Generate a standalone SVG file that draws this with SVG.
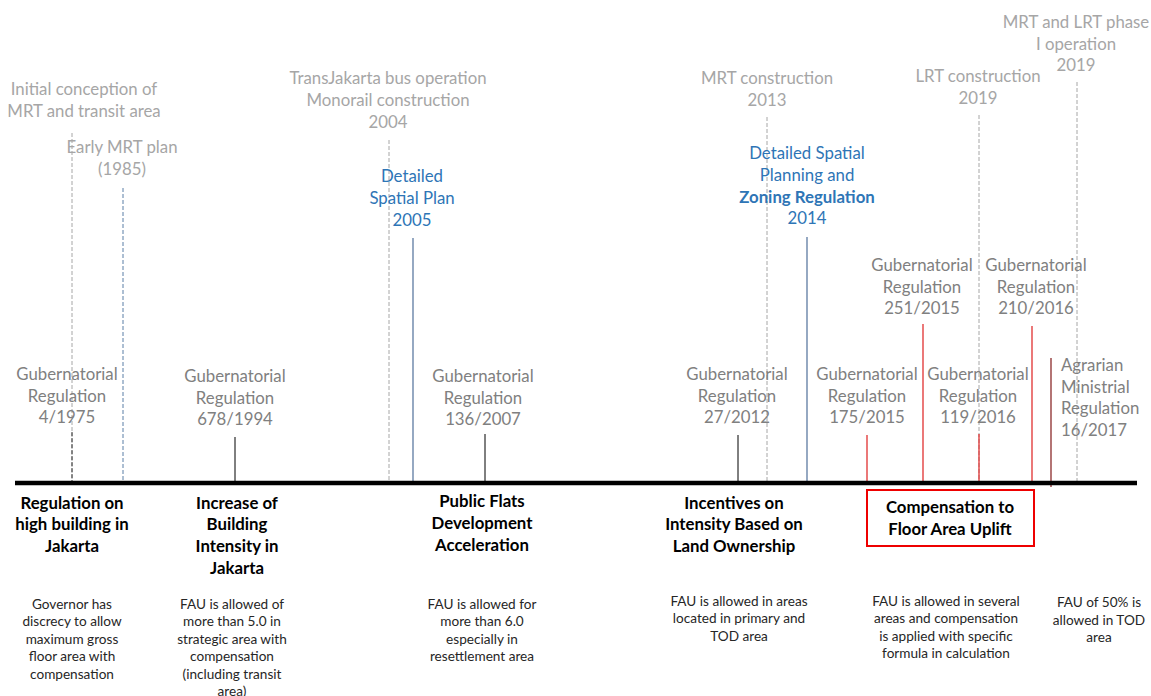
<svg xmlns="http://www.w3.org/2000/svg" width="1151" height="696" viewBox="0 0 1151 696">
<style>
text{font-family:Lato,"Liberation Sans",sans-serif;text-anchor:middle}
.ms{fill:#a6a6a6;font-size:16.8px}
.bl{fill:#2e75b6;font-size:16.8px}
.blb{fill:#2e75b6;font-size:16.8px;font-weight:bold}
.rg{fill:#808080;font-size:16.8px}
.hd{fill:#000;font-size:16.8px;font-weight:bold}
.ds{fill:#262626;font-size:13.6px}
.dg{stroke:#a6a6a6;stroke-width:1;stroke-dasharray:4 2;fill:none}
.db{stroke:#5b7fa6;stroke-width:1;stroke-dasharray:4 2;fill:none}
.dk{stroke:#333;stroke-width:1;stroke-dasharray:4 2;fill:none}
.sk{stroke:#000;stroke-width:1}
.sb{stroke:#4f6f99;stroke-width:1.2}
.sr{stroke:#e03030;stroke-width:1.3}
.sm{stroke:#8b2a2a;stroke-width:1.3}
</style>
<rect width="1151" height="696" fill="#fff"/>
<g id="connectors">
<line class="dg" x1="72" y1="133" x2="72" y2="483"/>
<line class="dk" x1="72" y1="432" x2="72" y2="483"/>
<line class="db" x1="123" y1="188" x2="123" y2="483"/>
<line class="dg" x1="389" y1="140" x2="389" y2="483"/>
<line class="sb" x1="413" y1="238" x2="413" y2="483"/>
<line class="sk" x1="235" y1="437" x2="235" y2="483"/>
<line class="sk" x1="485" y1="434" x2="485" y2="483"/>
<line class="sk" x1="738" y1="435" x2="738" y2="483"/>
<line class="dg" x1="767" y1="117" x2="767" y2="483"/>
<line class="sb" x1="807" y1="237" x2="807" y2="483"/>
<line class="sr" x1="867" y1="435" x2="867" y2="483"/>
<line class="sr" x1="923" y1="324" x2="923" y2="483"/>
<line class="dg" x1="979" y1="115" x2="979" y2="483"/>
<line class="sr" x1="979" y1="434" x2="979" y2="483"/>
<line class="sr" x1="1032" y1="326" x2="1032" y2="483"/>
<line class="sm" x1="1051" y1="358" x2="1051" y2="487"/>
<line class="dg" x1="1077" y1="82" x2="1077" y2="483"/>
<line x1="15" y1="483" x2="1137" y2="483" stroke="#000" stroke-width="4.5"/>
</g>
<g id="initial-conception"><text class="ms" x="84" y="95">Initial conception of</text><text class="ms" x="84" y="117">MRT and transit area</text></g>
<g id="early-mrt"><text class="ms" x="122" y="153">Early MRT plan</text><text class="ms" x="122" y="175">(1985)</text></g>
<g id="transjakarta"><text class="ms" x="388" y="84">TransJakarta bus operation</text><text class="ms" x="388" y="106">Monorail construction</text><text class="ms" x="388" y="128">2004</text></g>
<g id="dsp-2005"><text class="bl" x="412" y="182">Detailed</text><text class="bl" x="412" y="204">Spatial Plan</text><text class="bl" x="412" y="226">2005</text></g>
<g id="mrt-construction"><text class="ms" x="767" y="84">MRT construction</text><text class="ms" x="767" y="106">2013</text></g>
<g id="dsp-2014"><text class="bl" x="807" y="159">Detailed Spatial</text><text class="bl" x="807" y="181">Planning and</text><text class="blb" x="807" y="203">Zoning Regulation</text><text class="bl" x="807" y="224">2014</text></g>
<g id="lrt-construction"><text class="ms" x="978" y="82">LRT construction</text><text class="ms" x="978" y="104">2019</text></g>
<g id="mrt-lrt-operation"><text class="ms" x="1076" y="28">MRT and LRT phase</text><text class="ms" x="1076" y="50">I operation</text><text class="ms" x="1076" y="71">2019</text></g>
<g id="gr-4-1975"><text class="rg" x="67" y="380">Gubernatorial</text><text class="rg" x="67" y="402">Regulation</text><text class="rg" x="67" y="423">4/1975</text></g>
<g id="gr-678-1994"><text class="rg" x="235" y="382">Gubernatorial</text><text class="rg" x="235" y="404">Regulation</text><text class="rg" x="235" y="425">678/1994</text></g>
<g id="gr-136-2007"><text class="rg" x="483" y="382">Gubernatorial</text><text class="rg" x="483" y="404">Regulation</text><text class="rg" x="483" y="425">136/2007</text></g>
<g id="gr-27-2012"><text class="rg" x="737" y="380">Gubernatorial</text><text class="rg" x="737" y="402">Regulation</text><text class="rg" x="737" y="423">27/2012</text></g>
<g id="gr-175-2015"><text class="rg" x="867" y="380">Gubernatorial</text><text class="rg" x="867" y="402">Regulation</text><text class="rg" x="867" y="423">175/2015</text></g>
<g id="gr-251-2015"><text class="rg" x="922" y="271">Gubernatorial</text><text class="rg" x="922" y="293">Regulation</text><text class="rg" x="922" y="314">251/2015</text></g>
<g id="gr-119-2016"><text class="rg" x="978" y="380">Gubernatorial</text><text class="rg" x="978" y="402">Regulation</text><text class="rg" x="978" y="423">119/2016</text></g>
<g id="gr-210-2016"><text class="rg" x="1036" y="271">Gubernatorial</text><text class="rg" x="1036" y="293">Regulation</text><text class="rg" x="1036" y="314">210/2016</text></g>
<g id="amr-16-2017"><text class="rg" x="1061" y="371" style="text-anchor:start">Agrarian</text><text class="rg" x="1061" y="393" style="text-anchor:start">Ministrial</text><text class="rg" x="1061" y="414" style="text-anchor:start">Regulation</text><text class="rg" x="1061" y="436" style="text-anchor:start">16/2017</text></g>
<g id="phase-1"><text class="hd" x="72" y="509">Regulation on</text><text class="hd" x="72" y="530">high building in</text><text class="hd" x="72" y="552">Jakarta</text>
<text class="ds" x="72" y="609">Governor has</text><text class="ds" x="72" y="626">discrecy to allow</text><text class="ds" x="72" y="644">maximum gross</text><text class="ds" x="72" y="661">floor area with</text><text class="ds" x="72" y="679">compensation</text></g>
<g id="phase-2"><text class="hd" x="237" y="509">Increase of</text><text class="hd" x="237" y="530">Building</text><text class="hd" x="237" y="552">Intensity in</text><text class="hd" x="237" y="574">Jakarta</text>
<text class="ds" x="232" y="609">FAU is allowed of</text><text class="ds" x="232" y="626">more than 5.0 in</text><text class="ds" x="232" y="644">strategic area with</text><text class="ds" x="232" y="661">compensation</text><text class="ds" x="232" y="679">(including transit</text><text class="ds" x="232" y="696">area)</text></g>
<g id="phase-3"><text class="hd" x="482" y="507">Public Flats</text><text class="hd" x="482" y="529">Development</text><text class="hd" x="482" y="551">Acceleration</text>
<text class="ds" x="482" y="609">FAU is allowed for</text><text class="ds" x="482" y="626">more than 6.0</text><text class="ds" x="482" y="644">especially in</text><text class="ds" x="482" y="661">resettlement area</text></g>
<g id="phase-4"><text class="hd" x="734" y="509">Incentives on</text><text class="hd" x="734" y="530">Intensity Based on</text><text class="hd" x="734" y="552">Land Ownership</text>
<text class="ds" x="739" y="606">FAU is allowed in areas</text><text class="ds" x="739" y="623">located in primary and</text><text class="ds" x="739" y="641">TOD area</text></g>
<g id="phase-5"><rect x="867" y="490" width="167" height="56" fill="none" stroke="#e00" stroke-width="2"/><text class="hd" x="950" y="513">Compensation to</text><text class="hd" x="950" y="535">Floor Area Uplift</text>
<text class="ds" x="946" y="606">FAU is allowed in several</text><text class="ds" x="946" y="623">areas and compensation</text><text class="ds" x="946" y="641">is applied with specific</text><text class="ds" x="946" y="658">formula in calculation</text></g>
<g id="phase-6"><text class="ds" x="1099" y="607">FAU of 50% is</text><text class="ds" x="1099" y="625">allowed in TOD</text><text class="ds" x="1099" y="642">area</text></g>
</svg>
